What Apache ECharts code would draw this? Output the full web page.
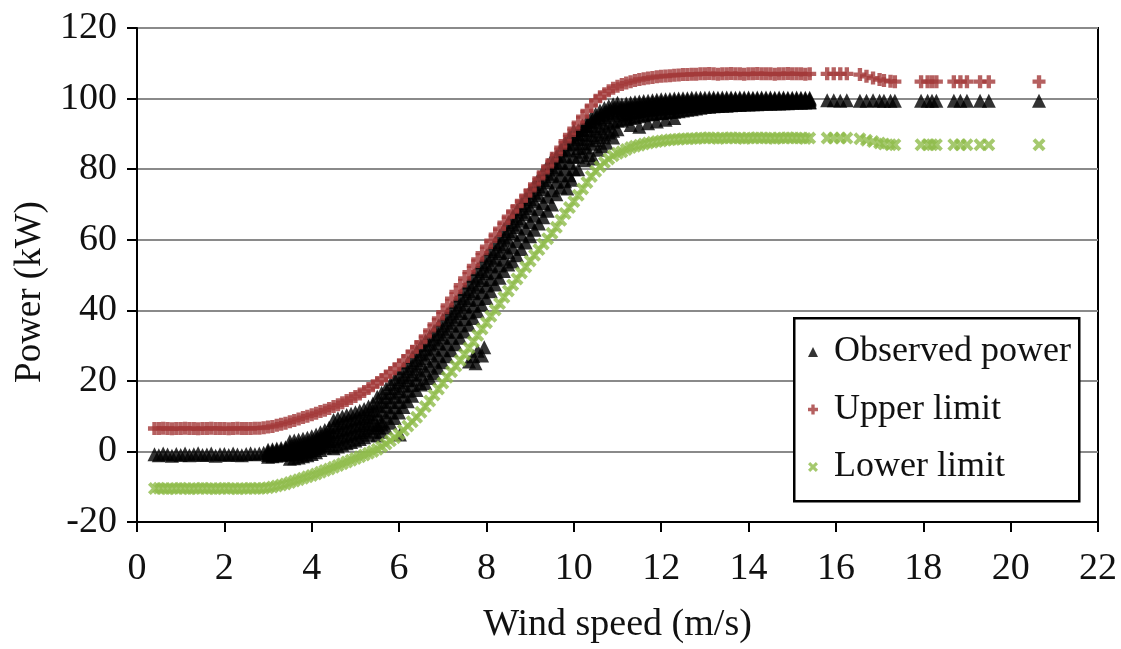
<!DOCTYPE html>
<html><head><meta charset="utf-8">
<script src="https://cdn.jsdelivr.net/npm/echarts@6/dist/echarts.min.js"></script>
<style>html,body{margin:0;padding:0;background:#fff}#chart{width:1121px;height:649px}</style>
</head><body><div id="chart"></div>
<script>
// ---- data ----
const xTicks = [0, 2, 4, 6, 8, 10, 12, 14, 16, 18, 20, 22];
const yTicks = [-20, 0, 20, 40, 60, 80, 100, 120];
const seriesNames = ['Observed power', 'Upper limit', 'Lower limit'];

const windSpeed = [
  0.4,0.5,0.6,0.7,0.8,0.9,1.0,1.1,1.2,1.3,1.4,1.5,1.6,1.7,1.8,1.9,2.0,2.1,2.2,2.3,2.4,2.5,2.6,2.7,2.8,2.9,
  3.0,3.1,3.2,3.3,3.4,3.5,3.6,3.7,3.8,3.9,
  4.0,4.1,4.2,4.3,4.4,4.5,4.6,4.7,4.8,4.9,
  5.0,5.1,5.2,5.3,5.4,5.5,5.6,5.7,5.8,5.9,
  6.0,6.1,6.2,6.3,6.4,6.5,6.6,6.7,6.8,6.9,
  7.0,7.1,7.2,7.3,7.4,7.5,7.6,7.7,7.8,7.9,
  8.0,8.1,8.2,8.3,8.4,8.5,8.6,8.7,8.8,8.9,
  9.0,9.1,9.2,9.3,9.4,9.5,9.6,9.7,9.8,9.9,
  10.0,10.1,10.2,10.3,10.4,10.5,10.6,10.7,10.8,10.9,
  11.0,
  11.1,11.2,11.3,11.4,11.5,11.6,11.7,11.8,11.9,12.0,12.1,12.2,12.3,12.4,12.5,12.6,12.7,12.8,12.9,
  13.0,13.1,13.2,13.3,13.4,13.5,13.6,13.7,13.8,13.9,14.0,14.1,14.2,14.3,14.4,14.5,14.6,14.7,14.8,14.9,15.0,15.1,15.2,15.3,15.4,
  15.8,15.95,16.1,16.25,16.55,16.7,16.85,17.0,17.1,17.25,17.35,17.95,18.1,18.2,18.3,18.7,18.85,19.0,19.3,19.5,20.65
];

const upperLimit = [
  6.5,6.5,6.6,6.5,6.4,6.5,6.5,6.6,6.5,6.5,6.4,6.5,6.5,6.6,6.5,6.5,6.5,6.4,6.5,6.6,6.5,6.5,6.5,6.6,6.6,6.7,
  6.9,7.1,7.4,7.7,8.0,8.4,8.8,9.2,9.6,10.0,
  10.4,10.8,11.3,11.7,12.2,12.7,13.2,13.8,14.4,15.0,
  15.6,16.3,17.0,17.8,18.6,19.5,20.4,21.4,22.4,23.4,
  24.5,25.7,27.0,28.3,29.6,31.0,32.6,34.3,36.0,37.7,
  39.5,41.4,43.3,45.2,47.1,49.0,50.8,52.6,54.4,56.2,
  58.0,59.7,61.4,63.1,64.8,66.5,68.0,69.5,71.0,72.5,
  74.0,75.7,77.4,79.1,80.8,82.5,84.3,86.1,87.9,89.7,
  91.5,93.2,94.9,96.5,98.0,99.5,100.5,101.4,102.2,102.9,
  103.5,
  104.0,104.4,104.8,105.1,105.4,105.6,105.8,106.0,106.2,106.3,106.4,106.5,106.6,106.7,106.8,106.8,106.9,106.9,107.0,
  107.0,107.1,107.0,106.9,107.0,107.0,107.1,107.0,107.0,106.9,107.0,107.0,107.1,107.0,107.0,107.0,106.9,107.0,107.0,107.1,107.0,107.0,107.0,106.9,107.0,
  107.0,107.0,107.0,107.0,106.8,106.3,105.8,105.4,105.1,104.9,104.8,104.8,104.8,104.8,104.8,104.8,104.8,104.8,104.8,104.8,104.8
];

const lowerLimit = [
  -10.5,-10.4,-10.5,-10.6,-10.5,-10.5,-10.4,-10.5,-10.6,-10.5,-10.5,-10.4,-10.5,-10.5,-10.6,-10.5,-10.4,-10.5,-10.5,-10.6,-10.5,-10.5,-10.4,-10.5,-10.5,-10.4,
  -10.3,-10.1,-9.8,-9.5,-9.2,-8.8,-8.4,-8.0,-7.6,-7.2,
  -6.8,-6.4,-5.9,-5.4,-5.0,-4.5,-4.0,-3.5,-3.0,-2.5,
  -2.0,-1.5,-1.0,-0.5,0.0,0.6,1.3,2.1,3.0,3.9,
  4.9,6.0,7.2,8.4,9.7,11.1,12.7,14.3,16.0,17.7,
  19.4,21.0,22.6,24.2,25.8,27.5,29.3,31.1,32.9,34.7,
  36.5,38.3,40.1,41.9,43.7,45.5,47.2,48.9,50.6,52.3,
  54.0,55.6,57.2,58.8,60.3,61.8,63.5,65.5,67.4,69.1,
  70.8,72.6,74.4,76.2,77.9,79.4,80.7,81.9,82.9,83.8,
  84.5,
  84.9,85.6,86.1,86.5,86.8,87.1,87.4,87.6,87.8,88.0,88.2,88.3,88.4,88.5,88.6,88.6,88.7,88.7,88.8,
  88.8,88.9,88.8,88.7,88.8,88.8,88.9,88.8,88.8,88.7,88.8,88.8,88.9,88.8,88.8,88.8,88.7,88.8,88.8,88.9,88.8,88.8,88.8,88.7,88.8,
  88.8,88.8,88.8,88.8,88.6,88.2,87.8,87.4,87.1,86.9,86.9,86.9,86.9,86.9,86.9,86.9,86.9,86.9,86.9,86.9,86.9
];

const observedPower = [
  -0.8,-1.1,-0.6,-0.9,-1.2,-0.7,-1.0,-0.6,-1.1,-0.8,-0.5,-1.0,-0.9,-0.6,-1.2,-0.8,-0.7,-1.0,-0.6,-0.9,-1.1,-0.7,-0.5,-0.8,-0.6,-0.4,
  -0.5,-0.4,-0.2,0.0,0.2,0.4,0.6,0.8,1.1,1.4,
  1.8,2.3,2.9,3.6,4.3,4.9,5.4,5.9,6.3,6.7,
  7.1,7.5,8.0,8.7,9.6,10.5,11.6,12.8,14.1,15.5,
  17.0,18.6,20.2,21.8,23.4,25.0,26.4,27.8,29.2,30.7,
  32.3,34.0,35.7,37.4,39.2,41.0,42.9,44.8,46.7,48.6,
  50.5,52.4,54.3,56.2,58.1,60.0,61.8,63.6,65.4,67.2,
  69.0,70.8,72.6,74.4,76.2,78.0,79.9,81.8,83.6,85.3,
  87.0,88.5,89.9,91.1,92.2,93.2,94.1,94.8,95.4,95.9,
  96.3,
  96.7,97.0,97.3,97.5,97.7,97.9,98.1,98.2,98.4,98.5,98.6,98.7,98.8,98.9,99.0,99.0,99.1,99.1,99.2,
  99.2,99.3,99.3,99.3,99.3,99.3,99.4,99.4,99.4,99.4,99.4,99.4,99.4,99.4,99.4,99.5,99.5,99.5,99.5,99.5,99.5,99.5,99.5,99.5,99.5,
  99.5,99.5,99.4,99.5,99.4,99.4,99.5,99.4,99.4,99.4,99.4,99.4,99.4,99.4,99.4,99.4,99.4,99.4,99.4,99.4,99.4
];

// spread of the observed cloud, for the speeds 3.0 .. 15.4 of windSpeed
const observedTop = [
  0.5,0.6,0.8,1.0,1.2,2.9,3.1,3.3,3.6,3.9,
  4.3,4.8,5.4,6.1,6.8,8.9,9.4,9.9,10.3,10.7,
  11.1,11.5,12.0,12.7,13.6,15.5,16.6,17.8,19.1,20.5,
  22.0,23.6,25.2,26.8,28.4,30.0,31.4,32.8,34.2,35.7,
  37.3,39.0,40.7,42.4,44.2,46.0,47.9,49.8,51.7,53.6,
  55.5,57.4,59.3,61.2,63.1,65.0,66.8,68.6,70.4,72.2,
  74.0,75.8,77.6,79.4,81.2,83.0,83.9,85.8,87.6,89.3,
  91.0,91.0,92.4,93.6,94.7,95.7,96.6,97.3,97.9,98.4,
  98.8,
  98.3,98.6,98.8,99.0,99.2,99.3,99.4,99.5,99.7,99.8,99.8,99.9,100.0,100.0,100.1,100.1,100.2,100.2,100.2,
  100.2,100.3,100.3,100.2,100.3,100.3,100.3,100.2,100.3,100.3,100.3,100.2,100.3,100.3,100.3,100.3,100.2,100.3,100.3,100.2,100.2,100.3,100.2,100.2,100.2
];
const observedUpper = [
  0.0,0.1,0.3,0.5,0.7,1.7,1.9,2.1,2.4,2.7,
  3.1,3.6,4.2,4.9,5.6,6.9,7.4,7.9,8.3,8.7,
  9.1,9.5,10.0,10.7,11.6,13.0,14.1,15.3,16.6,18.0,
  19.5,21.1,22.7,24.3,25.9,27.5,28.9,30.3,31.7,33.2,
  34.8,36.5,38.2,39.9,41.7,43.5,45.4,47.3,49.2,51.1,
  53.0,54.9,56.8,58.7,60.6,62.5,64.3,66.1,67.9,69.7,
  71.5,73.3,75.1,76.9,78.7,80.5,81.9,83.8,85.6,87.3,
  89.0,89.8,91.2,92.4,93.5,94.5,95.4,96.1,96.7,97.2,
  97.6,
  97.5,97.8,98.0,98.2,98.4,98.6,98.7,98.9,99.0,99.1,99.2,99.3,99.4,99.5,99.5,99.6,99.6,99.6,99.7,
  99.7,99.7,99.8,99.8,99.8,99.8,99.9,99.9,99.9,99.9,99.9,99.9,99.9,99.9,99.9,99.9,99.9,99.9,99.9,99.9,99.9,99.9,99.9,99.9,99.9
];
const observedLower = [
  -1.0,-0.9,-0.7,-0.5,-0.3,-0.9,-0.7,-0.5,-0.2,0.1,
  0.5,1.0,1.6,2.3,3.0,2.9,3.4,3.9,4.3,4.7,
  5.1,5.5,6.0,6.7,7.6,7.5,8.6,9.8,11.1,12.5,
  14.0,15.6,17.2,18.8,20.4,22.0,22.9,24.3,25.7,27.2,
  28.8,30.5,32.2,33.9,35.7,37.5,39.4,41.3,43.2,45.1,
  47.0,48.9,50.8,52.7,54.6,56.5,57.8,59.6,61.4,63.2,
  65.0,66.8,68.6,70.4,72.2,74.0,76.4,78.3,80.1,81.8,
  83.5,86.0,87.4,88.6,89.7,90.7,91.6,92.3,92.9,93.4,
  93.8,
  95.2,95.6,95.9,96.2,96.4,96.6,96.8,96.9,97.1,97.2,97.3,97.4,97.5,97.6,97.8,97.9,98.0,98.1,98.2,
  98.3,98.3,98.4,98.4,98.5,98.5,98.6,98.6,98.6,98.7,98.7,98.7,98.8,98.8,98.8,98.8,98.9,98.9,98.9,98.9,99.0,99.0,99.0,99.0,99.0
];
const observedBottom = [
  -1.5,-1.4,-1.2,-1.0,-0.8,-2.1,-1.9,-1.7,-1.4,-1.1,
  -0.7,-0.2,0.4,1.1,1.8,0.9,1.4,1.9,2.3,2.7,
  3.1,3.5,4.0,4.7,5.6,4.5,5.6,6.8,8.1,9.5,
  11.0,12.6,14.2,15.8,17.4,19.0,19.4,20.8,22.2,23.7,
  25.3,27.0,28.7,30.4,32.2,34.0,35.9,37.8,39.7,41.6,
  43.5,45.4,47.3,49.2,51.1,53.0,53.8,55.6,57.4,59.2,
  61.0,62.8,64.6,66.4,68.2,70.0,72.9,74.8,76.6,78.3,
  80.0,83.5,84.9,86.1,87.2,88.2,89.1,89.8,90.4,90.9,
  91.3,
  93.8,94.2,94.5,94.8,95.0,95.3,95.5,95.6,95.8,95.9,96.0,96.2,96.3,96.4,96.6,96.8,97.0,97.2,97.4,
  97.6,97.7,97.8,97.9,98.0,98.0,98.1,98.2,98.2,98.3,98.3,98.4,98.4,98.5,98.5,98.5,98.6,98.6,98.7,98.7,98.8,98.8,98.8,98.9,98.9
];

const outlierSpeed = [5.5,5.6,6.02,7.6,7.7,7.75,7.8,7.9,7.95,9.85,9.95,10.1,10.25,10.35,10.45,10.55,10.65,10.75,10.9,11.3,11.5,11.7,11.9,12.1,12.3];
const outlierPower = [6.8,7.6,4.8,25.5,27.0,25.0,28.5,27.2,29.5,74.5,77.0,80.0,82.5,84.0,83.0,85.5,86.5,87.5,89.0,92.5,92.0,93.0,93.5,94.0,94.5];

// ---- build the series data from the arrays ----
const bandStart = windSpeed.indexOf(3.0);
const bandSpeed = windSpeed.slice(bandStart, bandStart + observedTop.length);

const observedData = windSpeed.map((s, i) => [s, observedPower[i]]);
[observedTop, observedUpper, observedLower, observedBottom].forEach(row =>
  row.forEach((v, i) => observedData.push([bandSpeed[i], v])));
outlierSpeed.forEach((s, i) => observedData.push([s, outlierPower[i]]));
const upperData = windSpeed.map((s, i) => [s, upperLimit[i]]);
const lowerData = windSpeed.map((s, i) => [s, lowerLimit[i]]);

const PLUS = 'path://M4,0H8V4H12V8H8V12H4V8H0V4H4Z';
const CROSS = 'path://M0,2.6L2.6,0L6,3.4L9.4,0L12,2.6L8.6,6L12,9.4L9.4,12L6,8.6L2.6,12L0,9.4L3.4,6Z';
const FONT = "'Liberation Serif','Times New Roman',serif";
const TXT = '#111';
const RED = '#a33838';
const GREEN = '#8fbc4a';

const chart = echarts.init(document.getElementById('chart'), null, {renderer: 'canvas'});
chart.setOption({
  animation: false,
  backgroundColor: '#ffffff',
  grid: {left: 137, top: 28, right: 23, bottom: 125, show: true, borderColor: '#000', borderWidth: 2, backgroundColor: 'transparent'},
  xAxis: {
    type: 'value', min: xTicks[0], max: xTicks[xTicks.length - 1], interval: xTicks[1] - xTicks[0],
    name: 'Wind speed (m/s)', nameLocation: 'middle', nameGap: 84,
    nameTextStyle: {fontFamily: FONT, fontSize: 38, color: TXT},
    axisLine: {show: true, onZero: false, lineStyle: {color: '#000', width: 2}},
    axisTick: {show: true, inside: false, length: 10, lineStyle: {color: '#000', width: 2}},
    axisLabel: {margin: 28, fontFamily: FONT, fontSize: 38, color: TXT},
    splitLine: {show: false}
  },
  yAxis: {
    type: 'value', min: yTicks[0], max: yTicks[yTicks.length - 1], interval: yTicks[1] - yTicks[0],
    name: 'Power (kW)', nameLocation: 'middle', nameGap: 84,
    nameTextStyle: {fontFamily: FONT, fontSize: 37, color: TXT, padding: [0, 34, 0, 0]},
    axisLine: {show: true, onZero: false, lineStyle: {color: '#000', width: 2}},
    axisTick: {show: true, inside: false, length: 10, lineStyle: {color: '#000', width: 2}},
    axisLabel: {margin: 20, fontFamily: FONT, fontSize: 38, color: TXT},
    splitLine: {show: true, lineStyle: {color: '#8a8a8a', width: 2}}
  },
  graphic: [{
    type: 'rect', left: 793, top: 317, z: 3,
    shape: {width: 285, height: 183},
    style: {fill: '#fff', stroke: '#000', lineWidth: 2.5}
  }],
  legend: {
    orient: 'vertical', left: 808, top: 334, padding: 0, itemGap: 21.5,
    itemWidth: 10, itemHeight: 10, z: 5,
    textStyle: {fontFamily: FONT, fontSize: 36, color: TXT, padding: [0, 0, 0, 11]},
    data: [
      {name: seriesNames[0], icon: 'triangle'},
      {name: seriesNames[1], icon: PLUS},
      {name: seriesNames[2], icon: CROSS}
    ]
  },
  series: [
    {name: seriesNames[0], type: 'scatter', symbol: 'triangle', symbolSize: 14, silent: true,
     itemStyle: {color: '#000'}, data: observedData, z: 2},
    {name: seriesNames[1], type: 'scatter', symbol: PLUS, symbolSize: 13, silent: true,
     itemStyle: {color: RED}, data: upperData, z: 2},
    {name: seriesNames[2], type: 'scatter', symbol: CROSS, symbolSize: 13, silent: true,
     itemStyle: {color: GREEN}, data: lowerData, z: 2}
  ]
});
</script>
</body></html>
